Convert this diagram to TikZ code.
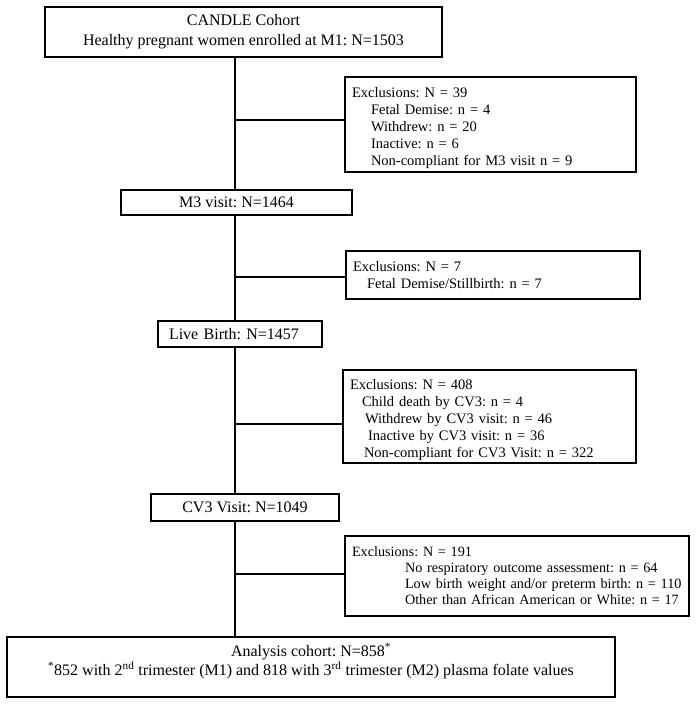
\documentclass[tikz,border=0pt]{standalone}
\usepackage{fontspec}
\setmainfont{Liberation Serif}
\frenchspacing
\begin{document}
\frenchspacing
\begin{tikzpicture}[x=1pt,y=-1pt,
  box/.style={draw, line width=2.8pt, inner sep=0pt, font=\fontsize{16}{19}\selectfont},
  lbox/.style={box, align=left, inner xsep=7pt, font=\fontsize{14.5}{17}\selectfont},
  link/.style={line width=1.4pt}]
\useasboundingbox (0,0) rectangle (696,704);

% main column
\node[box, minimum width=397pt, minimum height=50pt, align=center, font=\fontsize{16}{20}\selectfont] (b1) at (243.5,32)
  {CANDLE Cohort\\Healthy pregnant women enrolled at M1: N=1503};
\node[box, minimum width=231pt, minimum height=25pt] (b3) at (236.5,202.5) {M3 visit: N=1464};
\node[box, align=left, inner xsep=11pt, minimum width=164pt, minimum height=26pt, text width=142pt] (b5) at (240,334) {Live Birth: N=1457};
\node[box, minimum width=188pt, minimum height=27pt] (b7) at (245,507.5) {CV3 Visit: N=1049};
\node[box, minimum width=608pt, minimum height=60pt, align=center] (b9) at (311,667)
  {Analysis cohort: N=858\textsuperscript{*}\\
   \textsuperscript{*}852 with 2\textsuperscript{nd} trimester (M1) and 818 with 3\textsuperscript{rd} trimester (M2) plasma folate values\rule[-15.5pt]{0pt}{15.5pt}};

% exclusion boxes
\node[lbox, minimum width=291pt, minimum height=95pt, text width=277pt] (b2) at (490.5,124.5)
  {\rule{0pt}{16.5pt}Exclusions: N = 39\\
   \hspace*{19pt}Fetal Demise: n = 4\\
   \hspace*{19pt}Withdrew: n = 20\\
   \hspace*{19pt}Inactive: n = 6\\
   \hspace*{19pt}Non-compliant for M3 visit n = 9};
\node[lbox, minimum width=294pt, minimum height=48pt, text width=280pt] (b4) at (493,275)
  {Exclusions: N = 7\\
   \hspace*{14pt}Fetal Demise/Stillbirth: n = 7};
\node[lbox, minimum width=293pt, minimum height=93pt, text width=279pt] (b6) at (489.5,416.5)
  {\rule{0pt}{16.5pt}Exclusions: N = 408\\
   \hspace*{12pt}Child death by CV3: n = 4\\
   \hspace*{15pt}Withdrew by CV3 visit: n = 46\\
   \hspace*{18pt}Inactive by CV3 visit: n = 36\\
   \hspace*{14pt}Non-compliant for CV3 Visit: n = 322};
\node[lbox, minimum width=344pt, minimum height=80pt, text width=330pt, font=\fontsize{14.2}{16}\selectfont] (b8) at (517,576)
  {Exclusions: N = 191\\
   \hspace*{53pt}No respiratory outcome assessment: n = 64\\
   \hspace*{53pt}Low birth weight and/or preterm birth: n = 110\\
   \hspace*{53pt}Other than African American or White: n = 17};

% junction points on the trunk
\coordinate (t1) at (235,120);
\coordinate (t2) at (235,277);
\coordinate (t3) at (235,424);
\coordinate (t4) at (235,574);

\draw[link] (b1.south -| t1) -- (b3.north -| t1);
\draw[link] (b3.south -| t1) -- (b5.north -| t1);
\draw[link] (b5.south -| t1) -- (b7.north -| t1);
\draw[link] (b7.south -| t1) -- (b9.north -| t1);

\draw[link] (t1) -- (b2.west |- t1);
\draw[link] (t2) -- (b4.west |- t2);
\draw[link] (t3) -- (b6.west |- t3);
\draw[link] (t4) -- (b8.west |- t4);
\end{tikzpicture}
\end{document}
